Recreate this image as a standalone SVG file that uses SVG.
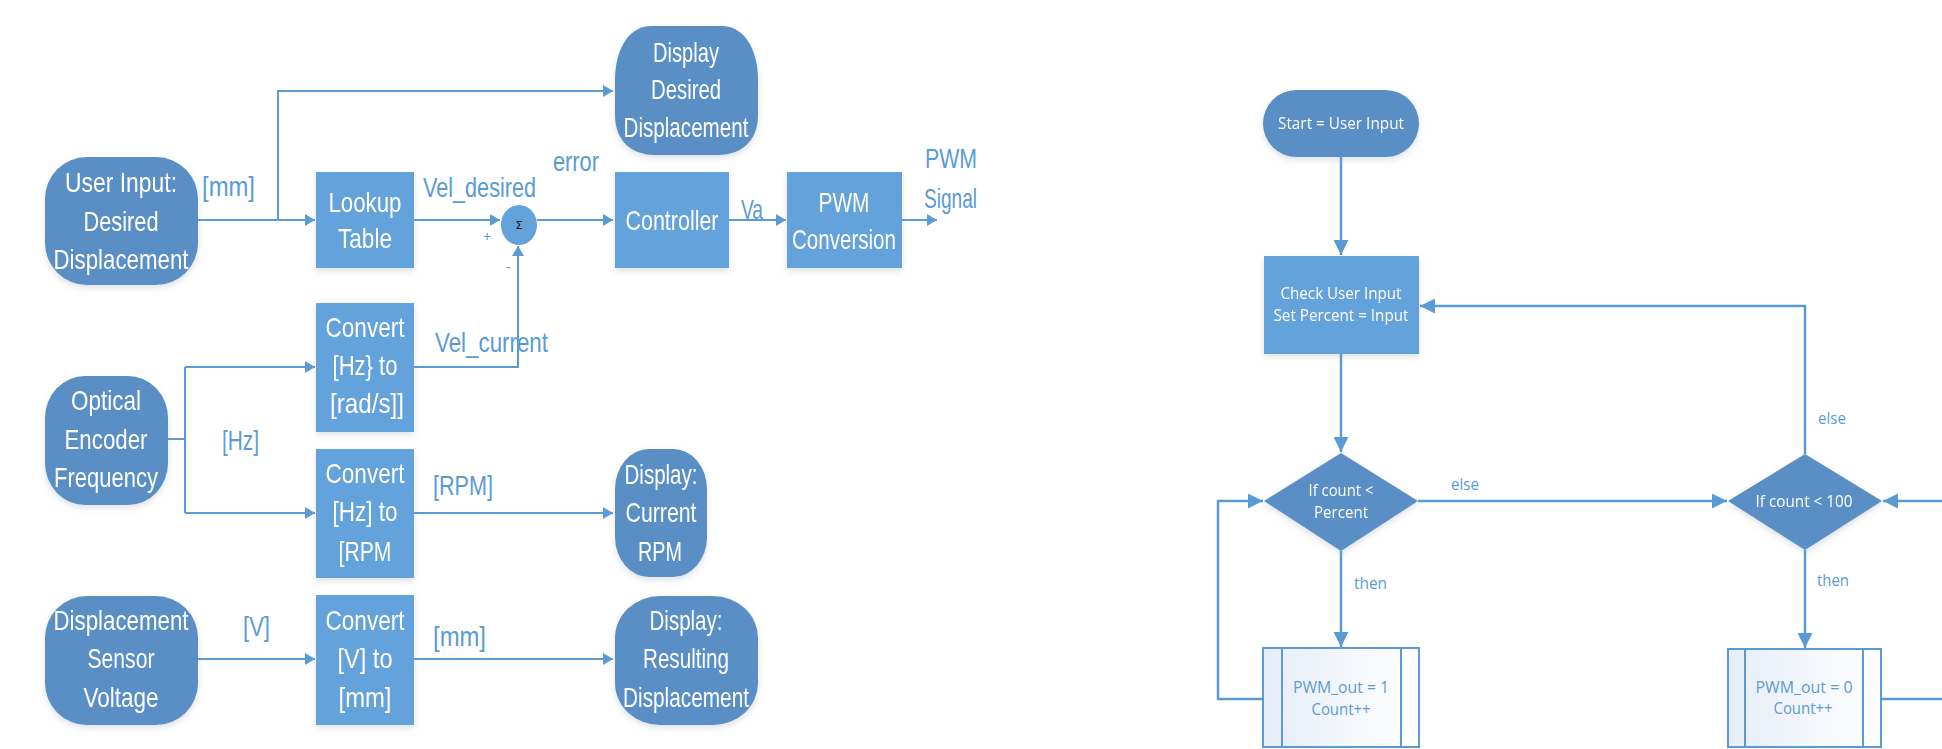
<svg xmlns="http://www.w3.org/2000/svg" width="1942" height="749" viewBox="0 0 1942 749">
  <style>
    .wire { fill: none; stroke: #5b9bd5; stroke-width: 2; }
    .wire2 { fill: none; stroke: #5b9bd5; stroke-width: 2.5; }
    .term { fill: #5a8fc5; }
    .proc { fill: #64a2db; }
    .big { font-family: "Liberation Sans", Arial, sans-serif; font-size: 28px; fill: #ffffff; text-anchor: middle; }
    .lbl { font-family: "Liberation Sans", Arial, sans-serif; font-size: 28px; fill: #5b9bd5; }
    .small { font-family: "Open Sans", "Liberation Sans", sans-serif; font-size: 16px; fill: #ffffff; text-anchor: middle; }
    .slbl { font-family: "Open Sans", "Liberation Sans", sans-serif; font-size: 16px; fill: #5b9bd5; }
    .sub { font-family: "Open Sans", "Liberation Sans", sans-serif; font-size: 16px; fill: #5b9bd5; text-anchor: middle; }
  </style>
  <defs>
    <marker id="arr" markerWidth="10" markerHeight="12" refX="10" refY="6" orient="auto" markerUnits="userSpaceOnUse">
      <path d="M0,0 L10,6 L0,12 Z" fill="#5b9bd5"/>
    </marker>
    <marker id="arrL" markerWidth="15" markerHeight="15" refX="15" refY="7.5" orient="auto" markerUnits="userSpaceOnUse">
      <path d="M0,0 L15,7.5 L0,15 Z" fill="#5b9bd5"/>
    </marker>
    <filter id="shadow" x="-10%" y="-10%" width="120%" height="130%">
      <feDropShadow dx="0" dy="3" stdDeviation="3" flood-color="#7a8aa0" flood-opacity="0.25"/>
    </filter>
    <linearGradient id="subFill" x1="0" y1="0" x2="1" y2="0">
      <stop offset="0" stop-color="#e6edf7"/>
      <stop offset="1" stop-color="#ffffff"/>
    </linearGradient>
  </defs>

  <rect width="1942" height="749" fill="#ffffff"/>

  <!-- Connectors -->
  <g id="connectors">
    <!-- block diagram -->
    <path class="wire" d="M198,220 L315,220" marker-end="url(#arr)"/>
    <path class="wire" d="M278,220 L278,91 L613,91" marker-end="url(#arr)"/>
    <path class="wire" d="M414,220 L500,220" marker-end="url(#arr)"/>
    <path class="wire" d="M537,220 L613,220" marker-end="url(#arr)"/>
    <path class="wire" d="M729,220 L786,220" marker-end="url(#arr)"/>
    <path class="wire" d="M902,220 L937,220" marker-end="url(#arr)"/>
    <path class="wire" d="M414,367 L518,367 L518,246" marker-end="url(#arr)"/>
    <path class="wire" d="M168,439 L185,439"/>
    <path class="wire" d="M185,367 L185,513"/>
    <path class="wire" d="M185,367 L315,367" marker-end="url(#arr)"/>
    <path class="wire" d="M185,513 L315,513" marker-end="url(#arr)"/>
    <path class="wire" d="M414,513 L613,513" marker-end="url(#arr)"/>
    <path class="wire" d="M198,659 L315,659" marker-end="url(#arr)"/>
    <path class="wire" d="M414,659 L613,659" marker-end="url(#arr)"/>

    <!-- flowchart -->
    <path class="wire2" d="M1341,157 L1341,255" marker-end="url(#arrL)"/>
    <path class="wire2" d="M1341,354 L1341,452" marker-end="url(#arrL)"/>
    <path class="wire2" d="M1341,551 L1341,647" marker-end="url(#arrL)"/>
    <path class="wire2" d="M1263,699 L1218,699 L1218,501 L1263,501" marker-end="url(#arrL)"/>
    <path class="wire2" d="M1418,501 L1727,501" marker-end="url(#arrL)"/>
    <path class="wire2" d="M1805,454 L1805,306 L1420,306" marker-end="url(#arrL)"/>
    <path class="wire2" d="M1805,550 L1805,648" marker-end="url(#arrL)"/>
    <path class="wire2" d="M1942,501 L1883,501" marker-end="url(#arrL)"/>
    <path class="wire2" d="M1881,699 L1942,699"/>
  </g>

  <!-- Connector labels -->
  <g id="labels">
    <text class="lbl" x="202" y="196" textLength="53" lengthAdjust="spacingAndGlyphs">[mm]</text>
    <text class="lbl" x="423" y="197" textLength="113" lengthAdjust="spacingAndGlyphs">Vel_desired</text>
    <text class="lbl" x="553" y="171" textLength="46" lengthAdjust="spacingAndGlyphs">error</text>
    <text class="lbl" x="741" y="219" textLength="22" lengthAdjust="spacingAndGlyphs">Va</text>
    <text class="lbl" x="925" y="168" textLength="52" lengthAdjust="spacingAndGlyphs">PWM</text>
    <text class="lbl" x="924" y="208" textLength="53" lengthAdjust="spacingAndGlyphs">Signal</text>
    <text class="lbl" x="435" y="352" textLength="113" lengthAdjust="spacingAndGlyphs">Vel_current</text>
    <text class="lbl" x="222" y="450" textLength="37" lengthAdjust="spacingAndGlyphs">[Hz]</text>
    <text class="lbl" x="433" y="495" textLength="60" lengthAdjust="spacingAndGlyphs">[RPM]</text>
    <text class="lbl" x="243" y="636" textLength="27" lengthAdjust="spacingAndGlyphs">[V]</text>
    <text class="lbl" x="433" y="646" textLength="53" lengthAdjust="spacingAndGlyphs">[mm]</text>
    <text class="lbl" x="483" y="241" style="font-size:14px">+</text>
    <text class="lbl" x="506" y="272" style="font-size:14px">-</text>

    <text class="slbl" x="1451" y="490" textLength="28" lengthAdjust="spacingAndGlyphs">else</text>
    <text class="slbl" x="1354" y="589" textLength="33" lengthAdjust="spacingAndGlyphs">then</text>
    <text class="slbl" x="1818" y="424" textLength="28" lengthAdjust="spacingAndGlyphs">else</text>
    <text class="slbl" x="1817" y="586" textLength="32" lengthAdjust="spacingAndGlyphs">then</text>
  </g>

  <!-- Block diagram nodes -->
  <g id="user-input" filter="url(#shadow)">
    <rect class="term" x="45" y="157" width="153" height="128" rx="42" ry="42"/>
    <text class="big" x="121" y="192" textLength="112" lengthAdjust="spacingAndGlyphs">User Input:</text>
    <text class="big" x="121" y="231" textLength="75" lengthAdjust="spacingAndGlyphs">Desired</text>
    <text class="big" x="121" y="269" textLength="135" lengthAdjust="spacingAndGlyphs">Displacement</text>
  </g>

  <g id="display-desired" filter="url(#shadow)">
    <path class="term" d="M652,26 L721,26 C748,26 758,55 758,80 L758,115 C758,142 740,155 718,155 L655,155 C633,155 615,142 615,115 L615,80 C615,55 625,26 652,26 Z"/>
    <text class="big" x="686" y="62" textLength="66" lengthAdjust="spacingAndGlyphs">Display</text>
    <text class="big" x="686" y="99" textLength="70" lengthAdjust="spacingAndGlyphs">Desired</text>
    <text class="big" x="686" y="137" textLength="125" lengthAdjust="spacingAndGlyphs">Displacement</text>
  </g>

  <g id="lookup-table" filter="url(#shadow)">
    <rect class="proc" x="316" y="172" width="98" height="96"/>
    <text class="big" x="365" y="212" textLength="73" lengthAdjust="spacingAndGlyphs">Lookup</text>
    <text class="big" x="365" y="248" textLength="54" lengthAdjust="spacingAndGlyphs">Table</text>
  </g>

  <g id="sum-junction">
    <ellipse class="proc" cx="519" cy="225" rx="18" ry="20"/>
    <text x="519" y="229" text-anchor="middle" font-family="'DejaVu Sans', sans-serif" font-size="11" fill="#111111">Σ</text>
  </g>

  <g id="controller" filter="url(#shadow)">
    <rect class="proc" x="615" y="172" width="114" height="96"/>
    <text class="big" x="672" y="230" textLength="93" lengthAdjust="spacingAndGlyphs">Controller</text>
  </g>

  <g id="pwm-conversion" filter="url(#shadow)">
    <rect class="proc" x="787" y="172" width="115" height="96"/>
    <text class="big" x="844" y="212" textLength="51" lengthAdjust="spacingAndGlyphs">PWM</text>
    <text class="big" x="844" y="249" textLength="104" lengthAdjust="spacingAndGlyphs">Conversion</text>
  </g>

  <g id="optical-encoder" filter="url(#shadow)">
    <rect class="term" x="45" y="376" width="123" height="129" rx="40" ry="42"/>
    <text class="big" x="106" y="410" textLength="70" lengthAdjust="spacingAndGlyphs">Optical</text>
    <text class="big" x="106" y="449" textLength="83" lengthAdjust="spacingAndGlyphs">Encoder</text>
    <text class="big" x="106" y="487" textLength="104" lengthAdjust="spacingAndGlyphs">Frequency</text>
  </g>

  <g id="convert-rad" filter="url(#shadow)">
    <rect class="proc" x="316" y="303" width="98" height="129"/>
    <text class="big" x="365" y="337" textLength="79" lengthAdjust="spacingAndGlyphs">Convert</text>
    <text class="big" x="365" y="375" textLength="65" lengthAdjust="spacingAndGlyphs">[Hz} to</text>
    <text class="big" x="367" y="413" textLength="74" lengthAdjust="spacingAndGlyphs">[rad/s]]</text>
  </g>

  <g id="convert-rpm" filter="url(#shadow)">
    <rect class="proc" x="316" y="449" width="98" height="129"/>
    <text class="big" x="365" y="483" textLength="79" lengthAdjust="spacingAndGlyphs">Convert</text>
    <text class="big" x="365" y="521" textLength="65" lengthAdjust="spacingAndGlyphs">[Hz] to</text>
    <text class="big" x="365" y="561" textLength="53" lengthAdjust="spacingAndGlyphs">[RPM</text>
  </g>

  <g id="display-rpm" filter="url(#shadow)">
    <rect class="term" x="615" y="449" width="92" height="128" rx="34" ry="40"/>
    <text class="big" x="661" y="484" textLength="73" lengthAdjust="spacingAndGlyphs">Display:</text>
    <text class="big" x="661" y="522" textLength="71" lengthAdjust="spacingAndGlyphs">Current</text>
    <text class="big" x="660" y="561" textLength="44" lengthAdjust="spacingAndGlyphs">RPM</text>
  </g>

  <g id="displacement-sensor" filter="url(#shadow)">
    <rect class="term" x="45" y="596" width="153" height="129" rx="42" ry="42"/>
    <text class="big" x="121" y="630" textLength="135" lengthAdjust="spacingAndGlyphs">Displacement</text>
    <text class="big" x="121" y="668" textLength="67" lengthAdjust="spacingAndGlyphs">Sensor</text>
    <text class="big" x="121" y="707" textLength="75" lengthAdjust="spacingAndGlyphs">Voltage</text>
  </g>

  <g id="convert-mm" filter="url(#shadow)">
    <rect class="proc" x="316" y="595" width="98" height="130"/>
    <text class="big" x="365" y="630" textLength="79" lengthAdjust="spacingAndGlyphs">Convert</text>
    <text class="big" x="365" y="668" textLength="55" lengthAdjust="spacingAndGlyphs">[V] to</text>
    <text class="big" x="365" y="707" textLength="53" lengthAdjust="spacingAndGlyphs">[mm]</text>
  </g>

  <g id="display-resulting" filter="url(#shadow)">
    <rect class="term" x="615" y="596" width="143" height="129" rx="45" ry="42"/>
    <text class="big" x="686" y="630" textLength="73" lengthAdjust="spacingAndGlyphs">Display:</text>
    <text class="big" x="686" y="668" textLength="86" lengthAdjust="spacingAndGlyphs">Resulting</text>
    <text class="big" x="686" y="707" textLength="126" lengthAdjust="spacingAndGlyphs">Displacement</text>
  </g>

  <!-- Flowchart nodes -->
  <g id="start" filter="url(#shadow)">
    <rect class="term" x="1263" y="90" width="156" height="67" rx="33.5" ry="33.5"/>
    <text class="small" x="1341" y="129" textLength="126" lengthAdjust="spacingAndGlyphs">Start = User Input</text>
  </g>

  <g id="check-input" filter="url(#shadow)">
    <rect class="proc" x="1264" y="256" width="155" height="98"/>
    <text class="small" x="1341" y="299" textLength="121" lengthAdjust="spacingAndGlyphs">Check User Input</text>
    <text class="small" x="1341" y="321" textLength="135" lengthAdjust="spacingAndGlyphs">Set Percent = Input</text>
  </g>

  <g id="if-percent" filter="url(#shadow)">
    <polygon class="term" points="1341,453 1418,501 1341,551 1264,501"/>
    <text class="small" x="1341" y="496" textLength="65" lengthAdjust="spacingAndGlyphs">If count &lt;</text>
    <text class="small" x="1341" y="518" textLength="54" lengthAdjust="spacingAndGlyphs">Percent</text>
  </g>

  <g id="pwm-high">
    <rect x="1263" y="648" width="156" height="99" fill="url(#subFill)" stroke="#5b9bd5" stroke-width="2"/>
    <line x1="1282" y1="648" x2="1282" y2="747" stroke="#5b9bd5" stroke-width="2"/>
    <line x1="1401" y1="648" x2="1401" y2="747" stroke="#5b9bd5" stroke-width="2"/>
    <text class="sub" x="1341" y="693" textLength="96" lengthAdjust="spacingAndGlyphs">PWM_out = 1</text>
    <text class="sub" x="1341" y="715" textLength="59" lengthAdjust="spacingAndGlyphs">Count++</text>
  </g>

  <g id="if-hundred" filter="url(#shadow)">
    <polygon class="term" points="1805,454 1882,501 1805,550 1728,501"/>
    <text class="small" x="1804" y="507" textLength="97" lengthAdjust="spacingAndGlyphs">If count &lt; 100</text>
  </g>

  <g id="pwm-low">
    <rect x="1728" y="649" width="153" height="98" fill="url(#subFill)" stroke="#5b9bd5" stroke-width="2"/>
    <line x1="1745" y1="649" x2="1745" y2="747" stroke="#5b9bd5" stroke-width="2"/>
    <line x1="1863" y1="649" x2="1863" y2="747" stroke="#5b9bd5" stroke-width="2"/>
    <text class="sub" x="1804" y="693" textLength="97" lengthAdjust="spacingAndGlyphs">PWM_out = 0</text>
    <text class="sub" x="1803" y="714" textLength="59" lengthAdjust="spacingAndGlyphs">Count++</text>
  </g>
</svg>
